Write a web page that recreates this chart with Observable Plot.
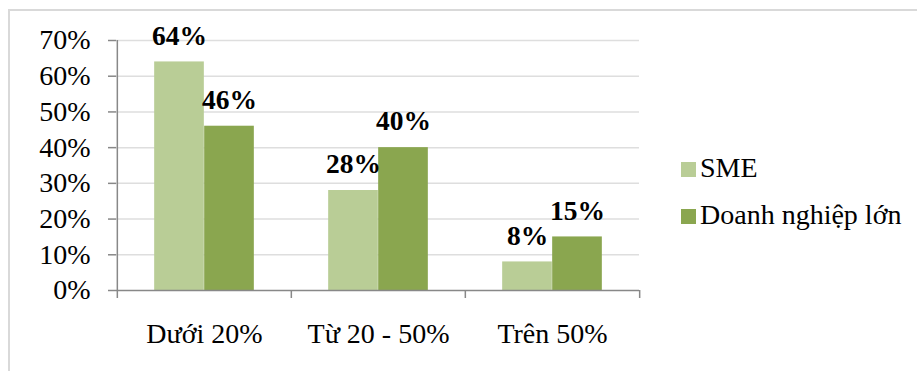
<!DOCTYPE html>
<html>
<head>
<meta charset="utf-8">
<script src="https://cdn.jsdelivr.net/npm/d3@7"></script>
<script src="https://cdn.jsdelivr.net/npm/@observablehq/plot@0.6"></script>
<style>
  html, body { margin: 0; padding: 0; background: #fff; }
  #wrap { position: relative; width: 917px; height: 371px; overflow: hidden; font-family: "Liberation Serif", serif; }
  #border { position: absolute; left: 8px; top: 9px; width: 1000px; height: 500px;
            border-left: 2px solid #d9d9d9; border-top: 2px solid #d9d9d9; box-sizing: border-box; }
  #chart { position: absolute; left: 0; top: 0; }
  #legend { position: absolute; left: 681px; top: 154px; font-size: 28px; color: #000; }
  .item { display: flex; align-items: center; height: 28px; margin-bottom: 19px; white-space: nowrap; }
  .sw { width: 15px; height: 15px; margin-right: 4px; margin-top: 3px; }
</style>
</head>
<body>
<div id="wrap">
  <div id="border"></div>
  <div id="chart"></div>
  <div id="legend"></div>
</div>
<script>
// Share of companies by cost band, split by company size
const categories = ["Dưới 20%", "Từ 20 - 50%", "Trên 50%"];
const series = ["SME", "Doanh nghiệp lớn"];
const smeValues = [0.64, 0.28, 0.08];
const largeValues = [0.46, 0.40, 0.15];
const yTicks = [0, 0.1, 0.2, 0.3, 0.4, 0.5, 0.6, 0.7];
const colors = ["#b9cd96", "#8aa64f"];

const sme = categories.map((c, i) => ({category: c, series: series[0], value: smeValues[i]}));
const large = categories.map((c, i) => ({category: c, series: series[1], value: largeValues[i]}));
const pct = d3.format(".0%");

const W = 917, H = 371;
const marginLeft = 116, marginRight = W - 639, marginTop = 40, marginBottom = H - 290;
const band = (W - marginLeft - marginRight) / categories.length;
const barW = 50;
const gap = (band - 2 * barW) / 2;
const plotH = H - marginTop - marginBottom;
const axisGray = "#888888";

const chart = Plot.plot({
  width: W,
  height: H,
  marginLeft, marginRight, marginTop, marginBottom,
  style: {fontFamily: "Liberation Serif", fontSize: "28px", color: "#000", background: "transparent"},
  x: {domain: categories, padding: 0},
  y: {domain: [0, 0.7]},
  color: {domain: series, range: colors},
  marks: [
    Plot.gridY(yTicks.slice(1), {stroke: "#dedede", strokeOpacity: 1, strokeWidth: 1.5}),
    Plot.axisY(yTicks, {
      tickFormat: pct, tickSize: 8, tickPadding: 18, stroke: axisGray, strokeWidth: 1.5,
      fill: "#000", label: null
    }),
    Plot.ruleX([0], {x: () => categories[0], dx: -band / 2, stroke: axisGray, strokeWidth: 1.5}),
    Plot.axisX({tickSize: 0, tickPadding: 33, label: null, fill: "#000"}),
    Plot.barY(sme, {x: "category", y: "value", fill: "series",
      insetLeft: gap, insetRight: band - gap - barW}),
    Plot.barY(large, {x: "category", y: "value", fill: "series",
      insetLeft: gap + barW, insetRight: gap}),
    Plot.ruleY([0], {stroke: axisGray, strokeWidth: 1.5}),
    // tick marks on the category boundaries below the baseline
    Plot.ruleX(categories, {x: d => d, dx: -band / 2, stroke: axisGray, strokeWidth: 1.5,
      insetTop: plotH, insetBottom: -8}),
    Plot.ruleX(categories.slice(-1), {x: d => d, dx: band / 2, stroke: axisGray, strokeWidth: 1.5,
      insetTop: plotH, insetBottom: -8}),
    Plot.text(sme, {x: "category", y: "value", text: d => pct(d.value), dx: -barW / 2, dy: -26,
      fontWeight: "bold", fontSize: 27.5, fill: "#000"}),
    Plot.text(large, {x: "category", y: "value", text: d => pct(d.value), dx: barW / 2, dy: -26,
      fontWeight: "bold", fontSize: 27.5, fill: "#000"})
  ]
});
document.getElementById("chart").appendChild(chart);

const legend = document.getElementById("legend");
series.forEach((s, i) => {
  const item = document.createElement("div");
  item.className = "item";
  const sw = document.createElement("span");
  sw.className = "sw";
  sw.style.background = colors[i];
  const label = document.createElement("span");
  label.textContent = s;
  item.appendChild(sw);
  item.appendChild(label);
  legend.appendChild(item);
});
</script>
</body>
</html>
